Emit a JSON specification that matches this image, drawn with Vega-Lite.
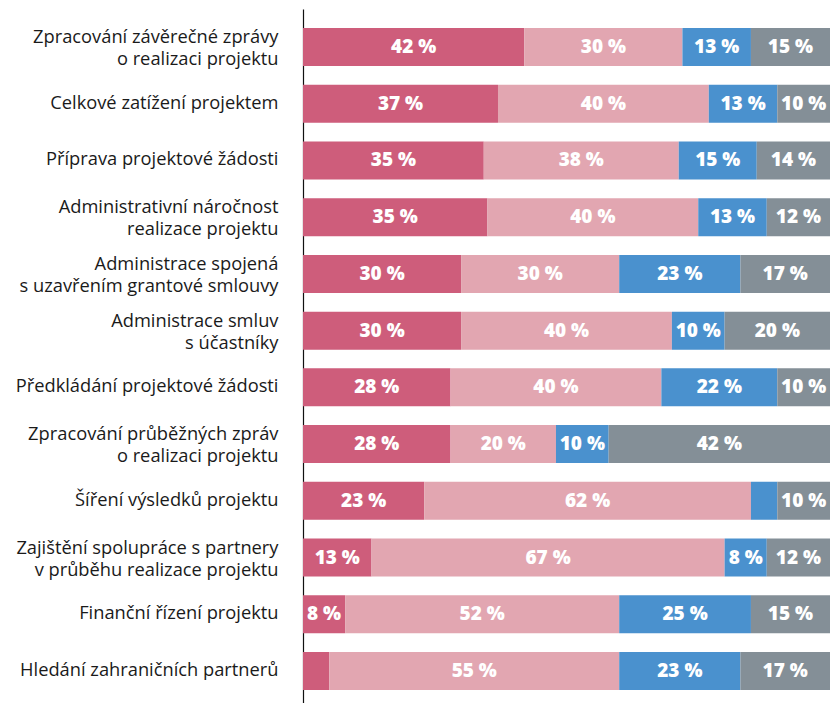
{
  "$schema": "https://vega.github.io/schema/vega-lite/v6.json",
  "autosize": "none",
  "width": 527,
  "height": 700,
  "padding": {"left": 303, "top": 9, "right": 0, "bottom": 0},
  "background": "white",
  "config": {"view": {"stroke": null}},
  "data": {"values": [
    {"item": "Zpracování závěrečné zprávy|o realizaci projektu", "ord": 1, "value": 42, "label": "42 %"},
    {"item": "Zpracování závěrečné zprávy|o realizaci projektu", "ord": 2, "value": 30, "label": "30 %"},
    {"item": "Zpracování závěrečné zprávy|o realizaci projektu", "ord": 3, "value": 13, "label": "13 %"},
    {"item": "Zpracování závěrečné zprávy|o realizaci projektu", "ord": 4, "value": 15, "label": "15 %"},
    {"item": "Celkové zatížení projektem", "ord": 1, "value": 37, "label": "37 %"},
    {"item": "Celkové zatížení projektem", "ord": 2, "value": 40, "label": "40 %"},
    {"item": "Celkové zatížení projektem", "ord": 3, "value": 13, "label": "13 %"},
    {"item": "Celkové zatížení projektem", "ord": 4, "value": 10, "label": "10 %"},
    {"item": "Příprava projektové žádosti", "ord": 1, "value": 34.3, "label": "35 %"},
    {"item": "Příprava projektové žádosti", "ord": 2, "value": 37, "label": "38 %"},
    {"item": "Příprava projektové žádosti", "ord": 3, "value": 14.8, "label": "15 %"},
    {"item": "Příprava projektové žádosti", "ord": 4, "value": 13.9, "label": "14 %"},
    {"item": "Administrativní náročnost|realizace projektu", "ord": 1, "value": 35, "label": "35 %"},
    {"item": "Administrativní náročnost|realizace projektu", "ord": 2, "value": 40, "label": "40 %"},
    {"item": "Administrativní náročnost|realizace projektu", "ord": 3, "value": 13, "label": "13 %"},
    {"item": "Administrativní náročnost|realizace projektu", "ord": 4, "value": 12, "label": "12 %"},
    {"item": "Administrace spojená|s uzavřením grantové smlouvy", "ord": 1, "value": 30, "label": "30 %"},
    {"item": "Administrace spojená|s uzavřením grantové smlouvy", "ord": 2, "value": 30, "label": "30 %"},
    {"item": "Administrace spojená|s uzavřením grantové smlouvy", "ord": 3, "value": 23, "label": "23 %"},
    {"item": "Administrace spojená|s uzavřením grantové smlouvy", "ord": 4, "value": 17, "label": "17 %"},
    {"item": "Administrace smluv|s účastníky", "ord": 1, "value": 30, "label": "30 %"},
    {"item": "Administrace smluv|s účastníky", "ord": 2, "value": 40, "label": "40 %"},
    {"item": "Administrace smluv|s účastníky", "ord": 3, "value": 10, "label": "10 %"},
    {"item": "Administrace smluv|s účastníky", "ord": 4, "value": 20, "label": "20 %"},
    {"item": "Předkládání projektové žádosti", "ord": 1, "value": 28, "label": "28 %"},
    {"item": "Předkládání projektové žádosti", "ord": 2, "value": 40, "label": "40 %"},
    {"item": "Předkládání projektové žádosti", "ord": 3, "value": 22, "label": "22 %"},
    {"item": "Předkládání projektové žádosti", "ord": 4, "value": 10, "label": "10 %"},
    {"item": "Zpracování průběžných zpráv|o realizaci projektu", "ord": 1, "value": 28, "label": "28 %"},
    {"item": "Zpracování průběžných zpráv|o realizaci projektu", "ord": 2, "value": 20, "label": "20 %"},
    {"item": "Zpracování průběžných zpráv|o realizaci projektu", "ord": 3, "value": 10, "label": "10 %"},
    {"item": "Zpracování průběžných zpráv|o realizaci projektu", "ord": 4, "value": 42, "label": "42 %"},
    {"item": "Šíření výsledků projektu", "ord": 1, "value": 23, "label": "23 %"},
    {"item": "Šíření výsledků projektu", "ord": 2, "value": 62, "label": "62 %"},
    {"item": "Šíření výsledků projektu", "ord": 3, "value": 5, "label": ""},
    {"item": "Šíření výsledků projektu", "ord": 4, "value": 10, "label": "10 %"},
    {"item": "Zajištění spolupráce s partnery|v průběhu realizace projektu", "ord": 1, "value": 13, "label": "13 %"},
    {"item": "Zajištění spolupráce s partnery|v průběhu realizace projektu", "ord": 2, "value": 67, "label": "67 %"},
    {"item": "Zajištění spolupráce s partnery|v průběhu realizace projektu", "ord": 3, "value": 8, "label": "8 %"},
    {"item": "Zajištění spolupráce s partnery|v průběhu realizace projektu", "ord": 4, "value": 12, "label": "12 %"},
    {"item": "Finanční řízení projektu", "ord": 1, "value": 8, "label": "8 %"},
    {"item": "Finanční řízení projektu", "ord": 2, "value": 52, "label": "52 %"},
    {"item": "Finanční řízení projektu", "ord": 3, "value": 25, "label": "25 %"},
    {"item": "Finanční řízení projektu", "ord": 4, "value": 15, "label": "15 %"},
    {"item": "Hledání zahraničních partnerů", "ord": 1, "value": 5, "label": ""},
    {"item": "Hledání zahraničních partnerů", "ord": 2, "value": 55, "label": "55 %"},
    {"item": "Hledání zahraničních partnerů", "ord": 3, "value": 23, "label": "23 %"},
    {"item": "Hledání zahraničních partnerů", "ord": 4, "value": 17, "label": "17 %"}
  ]},
  "transform": [
    {"stack": "value", "groupby": ["item"], "sort": [{"field": "ord"}], "as": ["x0", "x1"]},
    {"calculate": "(datum.x0 + datum.x1) / 2", "as": "mid"}
  ],
  "encoding": {
    "y": {
      "field": "item", "type": "nominal", "sort": null,
      "scale": {"paddingInner": 0.33, "paddingOuter": 0.335},
      "axis": {
        "title": null, "ticks": false, "domainColor": "#111", "domainWidth": 1.2,
        "labelPadding": 25, "labelFont": "Open Sans", "labelFontSize": 18.3, "labelColor": "#1a1a1a",
        "labelLineHeight": 22, "labelLimit": 320, "labelExpr": "split(datum.label, '|')",
        "labelOffset": {"condition": {"test": "indexof(datum.value, '|') >= 0", "value": -9}, "value": 0}
      }
    }
  },
  "layer": [
    {
      "mark": {"type": "bar"},
      "encoding": {
        "x": {"field": "x0", "type": "quantitative", "scale": {"domain": [0, 100], "nice": false}, "axis": null},
        "x2": {"field": "x1"},
        "color": {"field": "ord", "type": "nominal", "scale": {"domain": [1, 2, 3, 4], "range": ["#CE5D7B", "#E2A6B1", "#4A91CE", "#848F97"]}, "legend": null}
      }
    },
    {
      "mark": {"type": "text", "font": "Open Sans", "fontSize": 19, "fontWeight": 800, "color": "white", "baseline": "middle"},
      "encoding": {
        "x": {"field": "mid", "type": "quantitative"},
        "text": {"field": "label"}
      }
    }
  ]
}
